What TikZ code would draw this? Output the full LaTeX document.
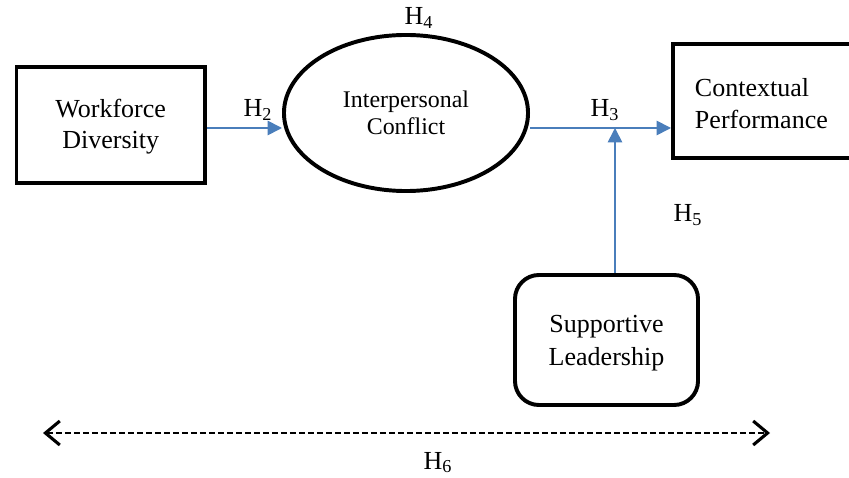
\documentclass[tikz,border=0pt]{standalone}
\usepackage{fontspec}
\setmainfont{Liberation Serif}
\usetikzlibrary{shapes.geometric,arrows.meta}
\definecolor{linkblue}{HTML}{4A7EBB}
\begin{document}
\begin{tikzpicture}[x=0.025cm,y=-0.025cm,
        box/.style={draw,line width=2.8pt,align=center,inner sep=0pt,
            font=\fontsize{18.5}{22}\selectfont},
        link/.style={linkblue,line width=1.2pt,-{Triangle[length=0.36cm,width=0.36cm]}},
        hlab/.style={anchor=base,font=\fontsize{18.5}{22}\selectfont}]
        \useasboundingbox (0,0) rectangle (849,478);

        % Disegna i blocchi
        \node[box,minimum width=4.71cm,minimum height=2.9cm] (wd) at (110.7,125) {\strut Workforce\\Diversity};
        \node[box,ellipse,minimum width=6.1cm,minimum height=3.9cm,
            font=\fontsize{17}{19.5}\selectfont] (ic) at (406,113) {Interpersonal\\Conflict};
        \node[box,minimum width=5.175cm,minimum height=2.85cm,text width=4.075cm,
            align=left,inner xsep=0.55cm,font=\fontsize{18.5}{23}\selectfont] (cp) at (776.5,101) {\strut Contextual\\Performance};
        \node[box,rounded corners=0.6cm,minimum width=4.575cm,minimum height=3.25cm,
            font=\fontsize{18.5}{23.5}\selectfont] (sl) at (606.5,340) {\strut Supportive\\Leadership};

        % Punti di appoggio
        \coordinate (mid) at (0,128);
        \coordinate (h5) at (615,128);
        \coordinate (dl) at (43,433);
        \coordinate (dr) at (770,433);

        % Disegna le frecce
        \draw[link] (wd.east |- mid) -- (ic.west |- mid);
        \draw[link] (ic.east |- mid) -- (cp.west |- mid);
        \draw[link] (sl.north -| h5) -- (h5);
        \draw[line width=1.1pt,dash pattern=on 4.3pt off 2.1pt,
            {Straight Barb[length=0.36cm,width=0.6cm,line width=2.2pt]}-{Straight Barb[length=0.36cm,width=0.6cm,line width=2.2pt]}] (dl) -- (dr);

        % Etichette delle ipotesi
        \node[hlab] (h2lab) at (258,117) {H\textsubscript{2}};
        \node[hlab] (h3lab) at (605,117) {H\textsubscript{3}};
        \node[hlab] (h4lab) at (419,25) {H\textsubscript{4}};
        \node[hlab] (h5lab) at (688,222) {H\textsubscript{5}};
        \node[hlab] (h6lab) at (438,469) {H\textsubscript{6}};
    \end{tikzpicture}
\end{document}
